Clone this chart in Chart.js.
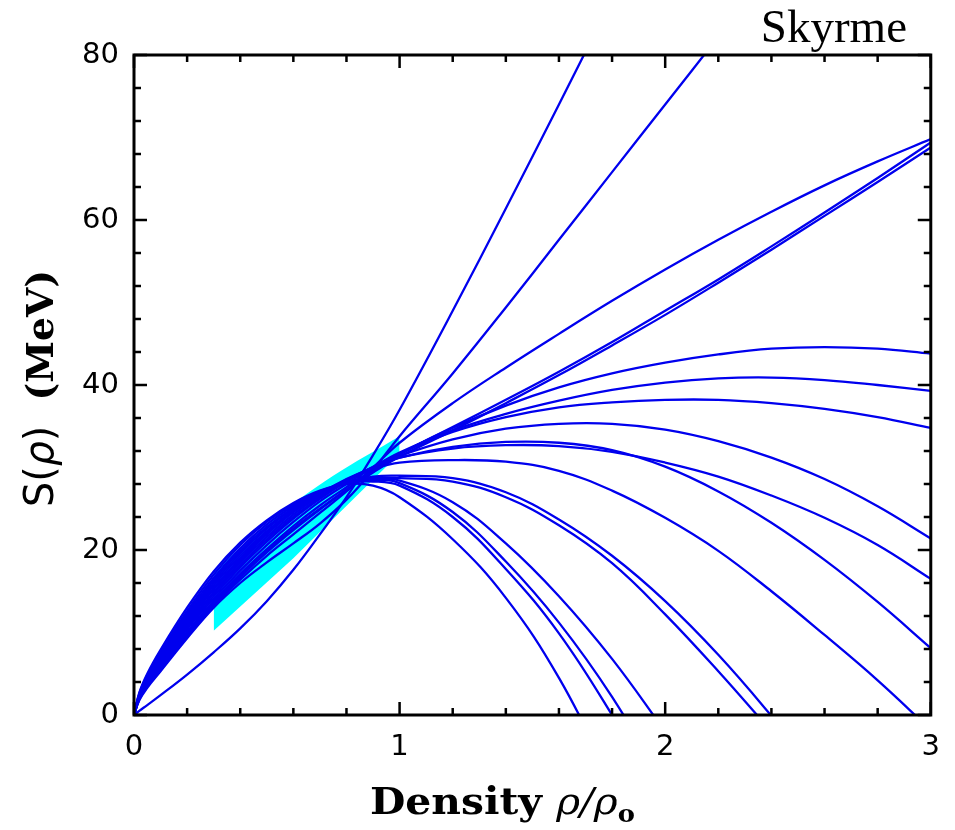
<!DOCTYPE html>
<html>
<head>
<meta charset="utf-8">
<title>Skyrme S(rho)</title>
<script src="https://cdn.jsdelivr.net/npm/chart.js@4.4.1/dist/chart.umd.min.js"></script>
<style>
  html, body { margin: 0; padding: 0; background: #fff; }
  #wrap { width: 955px; height: 830px; }
</style>
</head>
<body>
<div id="wrap"><canvas id="c" width="955" height="830"></canvas></div>
<script>
// density grid (rho/rho0) shared by every curve
const RHO = [0, 0.02, 0.05, 0.1, 0.2, 0.3, 0.4, 0.5, 0.6, 0.7, 0.8, 0.9, 1.0,
             1.2, 1.4, 1.6, 1.8, 2.0, 2.2, 2.4, 2.6, 2.8, 3.0];

// S(rho) in MeV; a curve stops one step after it leaves the frame
const exitTop168 = [0, 0.5, 1.2, 2.4, 4.9, 7.6, 10.5, 13.8, 17.6, 21.9, 26.4, 31.5, 37.0, 49.0, 61.4, 74.0, 86.8];
const exitTop215 = [0, 1.8, 3.3, 5.3, 9.3, 13.0, 16.0, 18.5, 20.8, 23.2, 26.1, 29.7, 33.8, 41.4, 49.4, 57.6, 65.8, 74.0, 82.2];
const end698 = [0, 1.9, 3.5, 5.5, 9.5, 13.2, 16.4, 19.3, 21.9, 24.5, 27.1, 30.0, 33.0, 37.8, 42.1, 46.2, 50.2, 54.0, 57.6, 61.0, 64.2, 67.1, 69.8];
const end694 = [0, 1.9, 3.5, 5.6, 9.7, 13.4, 16.7, 19.7, 22.4, 24.9, 27.3, 29.5, 31.6, 34.9, 38.2, 41.6, 45.2, 49.0, 52.8, 56.8, 60.9, 65.1, 69.4];
const end688 = [0, 2.0, 3.7, 5.8, 9.9, 13.6, 16.9, 19.9, 22.6, 25.0, 27.3, 29.4, 31.3, 34.5, 37.8, 41.2, 44.8, 48.5, 52.4, 56.4, 60.5, 64.6, 68.8];
const end438 = [0, 2.0, 3.7, 5.9, 10.1, 13.8, 17.1, 20.1, 22.9, 25.4, 27.6, 29.7, 31.6, 34.8, 37.5, 39.7, 41.4, 42.7, 43.7, 44.4, 44.6, 44.4, 43.8];
const end393 = [0, 2.1, 3.8, 6.1, 10.4, 14.1, 17.5, 20.6, 23.4, 25.9, 28.0, 30.0, 31.8, 34.5, 36.5, 38.1, 39.4, 40.3, 40.8, 40.9, 40.6, 40.0, 39.3];
const end348 = [0, 2.1, 3.9, 6.2, 10.6, 14.4, 17.9, 21.0, 23.8, 26.2, 28.3, 30.1, 31.7, 34.3, 36.1, 37.3, 37.9, 38.2, 38.2, 37.8, 37.1, 36.1, 34.8];
const end214 = [0, 2.2, 4.0, 6.4, 10.8, 14.7, 18.2, 21.3, 24.0, 26.4, 28.4, 30.0, 31.4, 33.4, 34.7, 35.3, 35.3, 34.6, 33.2, 31.2, 28.6, 25.3, 21.4];
const end165 = [0, 2.2, 4.1, 6.5, 11.0, 14.9, 18.5, 21.6, 24.3, 26.6, 28.5, 30.0, 31.2, 32.3, 32.7, 32.6, 31.9, 30.6, 28.9, 26.6, 23.9, 20.6, 16.5];
const end081 = [0, 2.2, 4.2, 6.6, 11.2, 15.2, 18.8, 21.9, 24.6, 26.8, 28.6, 30.0, 31.2, 32.5, 33.1, 33.0, 32.1, 30.1, 27.1, 23.3, 18.8, 13.7, 8.1];
const zero293 = [0, 2.3, 4.3, 6.8, 11.4, 15.4, 19.0, 22.1, 24.7, 26.8, 28.5, 29.8, 30.6, 30.9, 30.7, 29.6, 27.2, 23.9, 19.9, 15.0, 9.7, 4.2, -1.8];
const zero240 = [0, 2.3, 4.3, 6.9, 11.6, 15.7, 19.3, 22.3, 24.8, 26.8, 28.2, 28.9, 29.0, 28.7, 27.0, 23.7, 19.3, 13.8, 7.3, -0.1, -8.0];
const zero235 = [0, 2.4, 4.4, 7.0, 11.8, 16.0, 19.6, 22.6, 25.0, 26.8, 28.1, 28.7, 28.7, 28.3, 26.4, 23.0, 18.4, 12.2, 5.3, -2.0];
const zero196 = [0, 2.4, 4.5, 7.2, 12.0, 16.3, 19.9, 22.8, 25.1, 26.9, 28.1, 28.6, 28.4, 25.8, 20.8, 14.4, 6.8, -2.0];
const zero185 = [0, 2.5, 4.7, 7.4, 12.3, 16.6, 20.2, 23.1, 25.3, 27.0, 28.1, 28.5, 28.1, 24.6, 18.6, 11.2, 2.2, -8.6];
const zero180 = [0, 2.6, 4.8, 7.6, 12.6, 17.0, 20.6, 23.4, 25.5, 27.1, 28.1, 28.3, 27.8, 24.0, 17.7, 9.9, 0.0, -11.0];
const zero167 = [0, 2.7, 5.0, 7.9, 13.0, 17.4, 20.9, 23.6, 25.7, 27.2, 28.0, 27.8, 26.4, 21.3, 14.2, 4.5, -8.0];

const CURVES = [exitTop168, exitTop215, end698, end694, end688, end438, end393, end348,
                end214, end165, end081, zero293, zero240, zero235, zero196, zero185, zero180, zero167];

// cyan constraint band
const bandTopX = [0.3, 0.5, 0.75, 1.0];
const bandTopY = [17.3, 23.2, 29.0, 33.8];
const bandBotX = [0.3, 0.6, 1.0];
const bandBotY = [10.2, 19.0, 31.7];

const X_TICKS = [0, 1, 2, 3];
const Y_TICKS = [0, 20, 40, 60, 80];

const BLUE = '#0000ee';
const CYAN = '#00ffff';

const pts = (xs, ys) => ys.map((v, i) => ({ x: xs[i], y: v }));

const datasets = [
  { data: pts(bandTopX, bandTopY), borderWidth: 0, backgroundColor: CYAN, fill: '+1',
    pointRadius: 0, tension: 0.3, order: 2 },
  { data: pts(bandBotX, bandBotY), borderWidth: 0, backgroundColor: CYAN, fill: false,
    pointRadius: 0, order: 2 },
  ...CURVES.map((c) => ({
    data: pts(RHO, c), borderColor: BLUE, borderWidth: 2.3, pointRadius: 0,
    tension: 0.4, fill: false, order: 0,
  })),
];

// writes a row of differently styled pieces along one baseline
function drawRuns(ctx, runs) {
  let x = 0;
  for (const [text, font, dy] of runs) {
    ctx.font = font;
    ctx.fillText(text, x, dy || 0);
    x += ctx.measureText(text).width;
  }
  return x;
}
function runsWidth(ctx, runs) {
  let w = 0;
  for (const [text, font] of runs) { ctx.font = font; w += ctx.measureText(text).width; }
  return w;
}

const frame = {
  id: 'frame',
  afterDraw(chart) {
    const { ctx, chartArea: a, scales: { x, y } } = chart;
    ctx.save();
    ctx.strokeStyle = '#000';
    ctx.lineWidth = 3;
    ctx.strokeRect(a.left, a.top, a.right - a.left, a.bottom - a.top);
    ctx.lineWidth = 2.5;
    ctx.beginPath();
    for (let i = 0; i <= 15; i++) {
      const px = x.getPixelForValue(i * 0.2);
      const len = i % 5 === 0 ? 13 : 7;
      ctx.moveTo(px, a.bottom); ctx.lineTo(px, a.bottom - len);
      ctx.moveTo(px, a.top); ctx.lineTo(px, a.top + len);
    }
    for (let i = 0; i <= 20; i++) {
      const py = y.getPixelForValue(i * 4);
      const len = i % 5 === 0 ? 13 : 7;
      ctx.moveTo(a.left, py); ctx.lineTo(a.left + len, py);
      ctx.moveTo(a.right, py); ctx.lineTo(a.right - len, py);
    }
    ctx.stroke();

    ctx.fillStyle = '#000';
    ctx.textBaseline = 'alphabetic';
    ctx.textAlign = 'left';

    // x title
    const xRuns = [
      ['Density ', 'bold 38px "DejaVu Serif"'],
      ['ρ/ρ', 'italic 38px "DejaVu Serif"'],
      ['o', 'bold 24px "DejaVu Serif"', 8],
    ];
    let w = runsWidth(ctx, xRuns);
    ctx.save();
    ctx.translate(370, 814);
    ctx.scale(265 / w, 1);
    drawRuns(ctx, xRuns);
    ctx.restore();

    // y title
    const yRuns = [
      ['S(', '40px "DejaVu Sans"'],
      ['ρ', 'italic 40px "DejaVu Sans"'],
      [')  ', '40px "DejaVu Sans"'],
      ['(MeV)', 'bold 38px "DejaVu Serif"'],
    ];
    w = runsWidth(ctx, yRuns);
    ctx.save();
    ctx.translate(53, 507);
    ctx.rotate(-Math.PI / 2);
    ctx.scale(237 / w, 1);
    drawRuns(ctx, yRuns);
    ctx.restore();

    // label
    ctx.font = '47px "Liberation Serif"';
    ctx.textAlign = 'right';
    ctx.fillText('Skyrme', 907, 42);
    ctx.restore();
  },
};

new Chart(document.getElementById('c'), {
  type: 'line',
  data: { datasets },
  options: {
    responsive: false,
    animation: false,
    events: [],
    layout: { padding: { top: 55, right: 23, left: 0, bottom: 0 } },
    plugins: { legend: { display: false }, tooltip: { enabled: false } },
    scales: {
      x: {
        type: 'linear', min: 0, max: 3,
        afterBuildTicks: (s) => { s.ticks = X_TICKS.map((v) => ({ value: v })); },
        afterFit: (s) => { s.height = 115; },
        grid: { display: false, drawTicks: false },
        border: { display: false },
        ticks: { color: '#000', padding: 15, maxRotation: 0, font: { family: 'DejaVu Sans', size: 29 } },
      },
      y: {
        type: 'linear', min: 0, max: 80,
        afterBuildTicks: (s) => { s.ticks = Y_TICKS.map((v) => ({ value: v })); },
        afterFit: (s) => { s.width = 134; },
        grid: { display: false, drawTicks: false },
        border: { display: false },
        ticks: { color: '#000', padding: 15, font: { family: 'DejaVu Sans', size: 29 } },
      },
    },
  },
  plugins: [frame],
});
</script>
</body>
</html>
